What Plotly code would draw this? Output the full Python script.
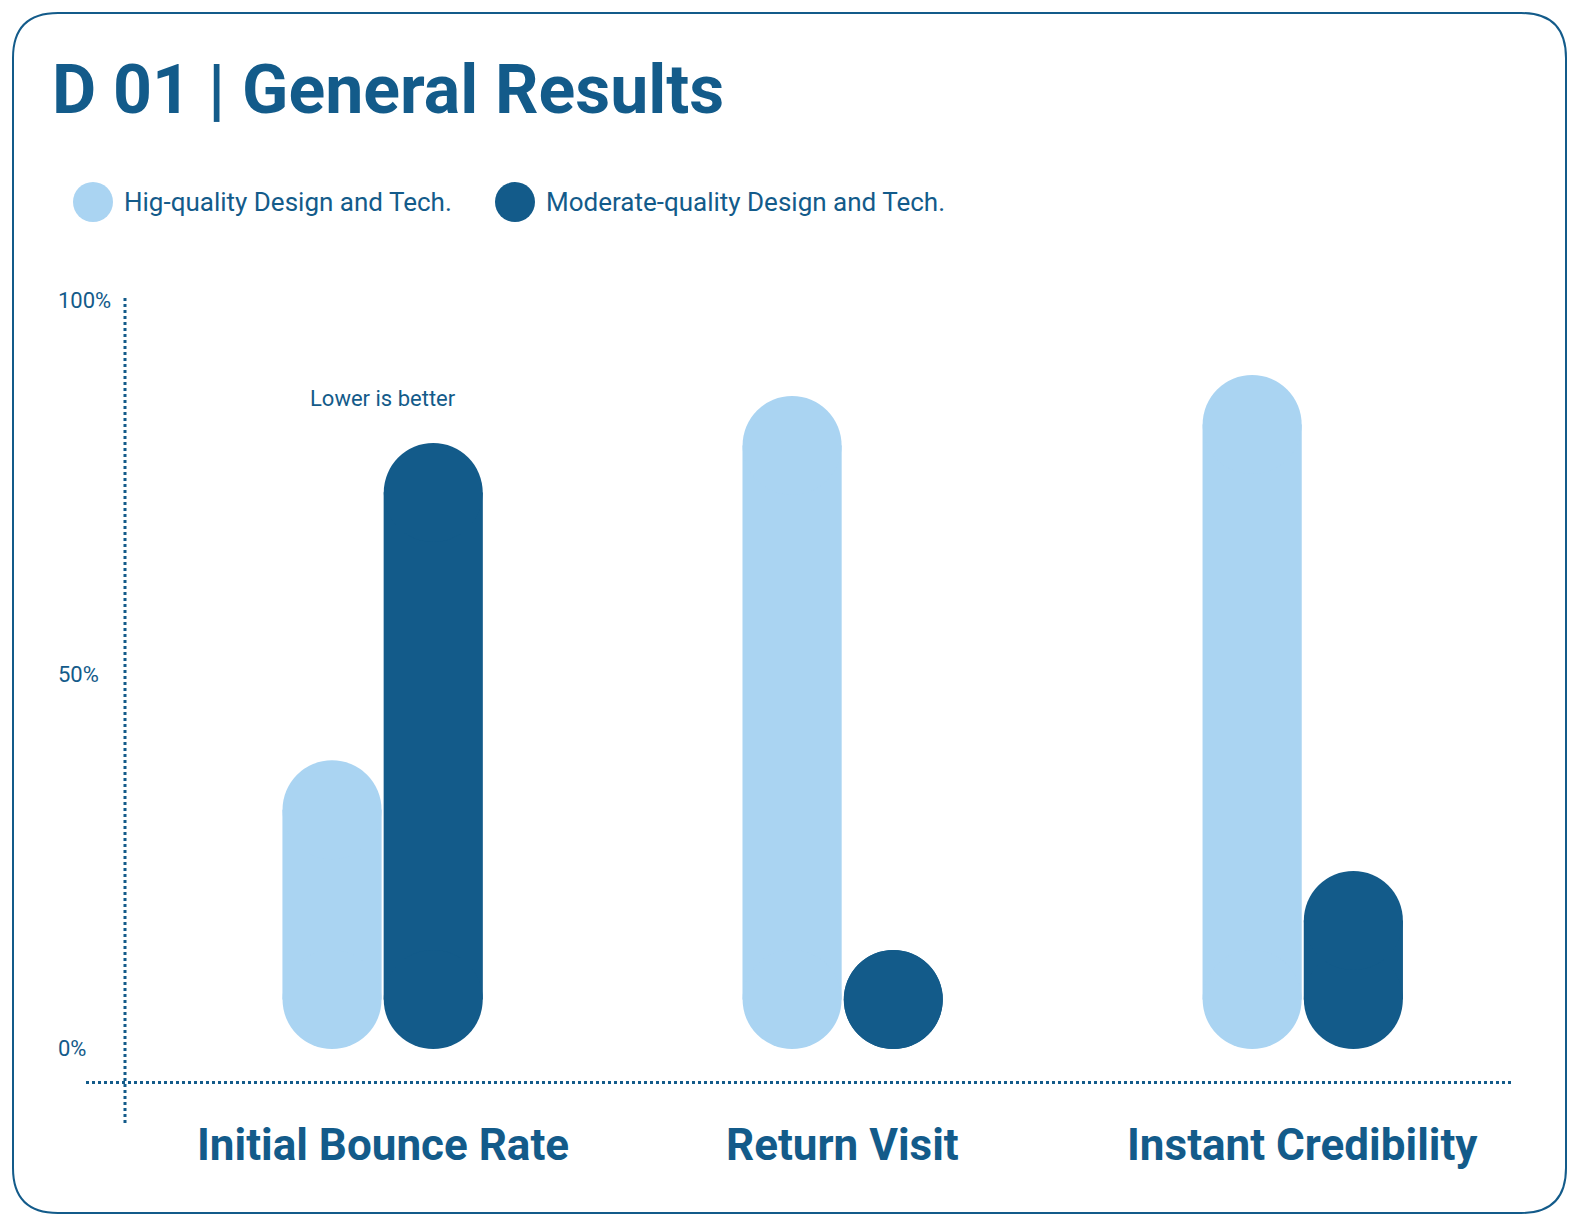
import plotly.graph_objects as go

categories = ["Initial Bounce Rate", "Return Visit", "Instant Credibility"]
high_quality = [38.6, 87.3, 90.1]
moderate_quality = [81.0, 11.0, 23.8]
series_names = ["Hig-quality Design and Tech.", "Moderate-quality Design and Tech."]
tick_vals = [0, 50, 100]
tick_text = ["0%", "50%", "100%"]

LIGHT = "#aad4f2"
DARK = "#135b8a"
FONT = "Roboto"

W, H = 1585, 1223
L, R, T, B = 117, 80, 290, 108
PW, PH = W - L - R, H - T - B
Y0, Y1 = -9.9, 100.4
px_per_unit = PH / (Y1 - Y0)
BAR_PX = 99
r = BAR_PX / 2 / px_per_unit  # cap radius in data units


def px(x):
    return (x - L) / PW


def py(y):
    return (H - B - y) / PH


fig = go.Figure()
for name, vals, col, grp in [(series_names[0], high_quality, LIGHT, "a"),
                             (series_names[1], moderate_quality, DARK, "b")]:
    # straight middle part of each pill
    fig.add_bar(x=categories, y=[max(v - 2 * r, 0) for v in vals], base=r, marker_color=col,
                marker_line_width=0, offsetgroup=grp, name=name,
                showlegend=False, hoverinfo="skip")
    # round caps: bottom and top
    fig.add_scatter(x=categories, y=[r] * len(vals), mode="markers", offsetgroup=grp,
                    marker=dict(size=BAR_PX, color=col, line_width=0),
                    showlegend=False, hoverinfo="skip")
    fig.add_scatter(x=categories, y=[max(v - r, r) for v in vals], mode="markers",
                    offsetgroup=grp, marker=dict(size=BAR_PX, color=col, line_width=0),
                    showlegend=False, hoverinfo="skip")

shapes = []
# frame
x0, x1, y0, y1, rad = 5, 1558, 5, 1205, 45
path = (f"M {px(x0+rad)},{py(y0)} L {px(x1-rad)},{py(y0)} Q {px(x1)},{py(y0)} {px(x1)},{py(y0+rad)} "
        f"L {px(x1)},{py(y1-rad)} Q {px(x1)},{py(y1)} {px(x1-rad)},{py(y1)} "
        f"L {px(x0+rad)},{py(y1)} Q {px(x0)},{py(y1)} {px(x0)},{py(y1-rad)} "
        f"L {px(x0)},{py(y0+rad)} Q {px(x0)},{py(y0)} {px(x0+rad)},{py(y0)} Z")
shapes.append(dict(type="path", path=path, xref="paper", yref="paper",
                   line=dict(color=DARK, width=2), layer="below"))
# dotted axes
shapes.append(dict(type="line", xref="paper", yref="y", x0=px(78), x1=1, y0=-4.5, y1=-4.5,
                   line=dict(color=DARK, width=3, dash="dot")))
shapes.append(dict(type="line", xref="paper", yref="paper", x0=0, x1=0, y0=0, y1=1,
                   line=dict(color=DARK, width=3, dash="dot")))
# legend circles
for cx, col in [(85, LIGHT), (507, DARK)]:
    shapes.append(dict(type="circle", xref="paper", yref="paper", xsizemode="pixel",
                       ysizemode="pixel", xanchor=px(cx), yanchor=py(194),
                       x0=-20, x1=20, y0=-20, y1=20, fillcolor=col, line_width=0))

ann = [
    dict(text="<b>D 01 | General Results</b>", x=px(42), y=py(82), xanchor="left",
         yanchor="middle", font=dict(size=68, color=DARK)),
    dict(text=series_names[0], x=px(114), y=py(194), xanchor="left", yanchor="middle",
         font=dict(size=26, color=DARK)),
    dict(text=series_names[1], x=px(536), y=py(194), xanchor="left", yanchor="middle",
         font=dict(size=26, color=DARK)),
    dict(text="Lower is better", x=categories[0], xref="x", y=py(390),
         xanchor="center", yanchor="middle", font=dict(size=22, color=DARK)),
]
for v, t in zip(tick_vals, tick_text):
    ann.append(dict(text=t, x=px(48), y=v, yref="y", xanchor="left", yanchor="middle",
                    font=dict(size=22, color=DARK)))
for c in categories:
    ann.append(dict(text=f"<b>{c}</b>", x=c, xref="x", y=py(1137), xanchor="center",
                    yanchor="middle", font=dict(size=44, color=DARK)))
for a in ann:
    a.setdefault("xref", "paper")
    a.setdefault("yref", "paper")
    a["showarrow"] = False

fig.update_layout(
    width=W, height=H, margin=dict(l=L, r=R, t=T, b=B),
    paper_bgcolor="white", plot_bgcolor="white",
    font=dict(family=FONT, color=DARK),
    barmode="group", scattermode="group", bargap=0.56, bargroupgap=0.02,
    xaxis=dict(range=[-0.56, 2.457], showticklabels=False, showgrid=False, zeroline=False),
    yaxis=dict(range=[Y0, Y1], showticklabels=False, showgrid=False, zeroline=False),
    shapes=shapes, annotations=ann, showlegend=False,
)
fig.write_html("out.html")
